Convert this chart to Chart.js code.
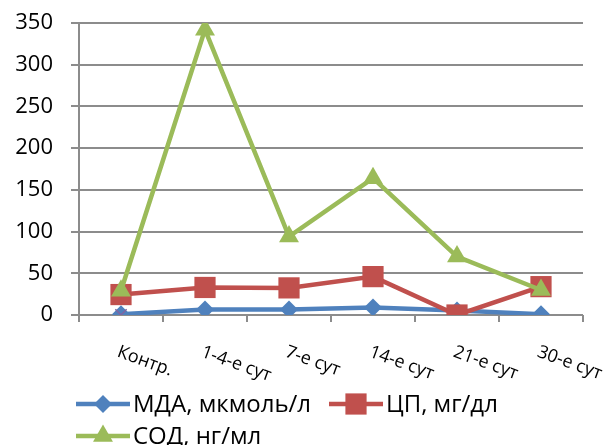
<!DOCTYPE html>
<html>
<head>
<meta charset="utf-8">
<script src="https://cdn.jsdelivr.net/npm/chart.js@4.4.1/dist/chart.umd.min.js"></script>
<style>
  html, body { margin: 0; padding: 0; background: #fff; }
</style>
</head>
<body>
<canvas id="grafico" width="610" height="445"></canvas>
<script>
// Datos
const categorias = ['Контр.', '1-4-е сут', '7-е сут', '14-е сут', '21-е сут', '30-е сут'];
const mda = [1, 6.5, 6.5, 9, 5.5, 1];
const cp = [24.5, 33, 32.5, 46, 0, 34];
const sod = [29, 342, 94, 164, 70, 30];
const serie4 = [0, null, null, null, null, null];
const ticksY = [0, 50, 100, 150, 200, 250, 300, 350];

const nombres = ['МДА, мкмоль/л', 'ЦП, мг/дл', 'СОД, нг/мл'];

const FUENTE = "'Open Sans', 'DejaVu Sans', sans-serif";
const GRIS = '#8c8c8c';

// Dibujar un marcador como los de Excel
function dibujarMarcador(ctx, estilo, x, y, r, color) {
  ctx.save();
  ctx.fillStyle = color;
  ctx.beginPath();
  if (estilo === 'rectRot') {
    ctx.moveTo(x, y - r);
    ctx.lineTo(x + r, y);
    ctx.lineTo(x, y + r);
    ctx.lineTo(x - r, y);
  } else if (estilo === 'rect') {
    const s = r * Math.SQRT1_2;
    ctx.rect(x - s, y - s, 2 * s, 2 * s);
  } else if (estilo === 'triangle') {
    ctx.moveTo(x, y - r);
    ctx.lineTo(x + r * Math.sin(Math.PI / 3), y + r / 2);
    ctx.lineTo(x - r * Math.sin(Math.PI / 3), y + r / 2);
  }
  ctx.closePath();
  ctx.fill();
  ctx.restore();
}

// Etiquetas del eje X giradas hacia abajo
const etiquetasX = {
  id: 'etiquetasX',
  afterDraw(chart) {
    const ctx = chart.ctx;
    const x = chart.scales.x;
    ctx.save();
    ctx.font = '18px ' + FUENTE;
    ctx.fillStyle = '#000';
    ctx.textAlign = 'left';
    ctx.textBaseline = 'top';
    categorias.forEach((cat, i) => {
      const px = x.getPixelForValue(i);
      ctx.save();
      ctx.translate(px, x.top + 28);
      ctx.rotate(20 * Math.PI / 180);
      ctx.fillText(cat, 0, 0);
      ctx.restore();
    });
    ctx.restore();
  }
};

// Leyenda abajo a la izquierda, en dos filas
const leyenda = {
  id: 'leyenda',
  afterDraw(chart) {
    const ctx = chart.ctx;
    const filas = [
      [{ i: 0, x: 76 }, { i: 1, x: 329 }],
      [{ i: 2, x: 76 }]
    ];
    const basesY = [412, 444];
    ctx.save();
    ctx.font = '24px ' + FUENTE;
    ctx.fillStyle = '#000';
    ctx.textBaseline = 'alphabetic';
    filas.forEach((fila, f) => {
      const yb = basesY[f];
      const yc = yb - 8;
      fila.forEach(item => {
        const ds = chart.data.datasets[item.i];
        ctx.strokeStyle = ds.borderColor;
        ctx.lineWidth = 4.5;
        ctx.beginPath();
        ctx.moveTo(item.x, yc);
        ctx.lineTo(item.x + 54, yc);
        ctx.stroke();
        dibujarMarcador(ctx, ds.pointStyle, item.x + 27, yc, ds.pointRadius, ds.pointBackgroundColor);
        ctx.fillStyle = '#000';
        ctx.fillText(nombres[item.i], item.x + 57, yb);
      });
    });
    ctx.restore();
  }
};

const ctx = document.getElementById('grafico').getContext('2d');
new Chart(ctx, {
  type: 'line',
  data: {
    labels: categorias,
    datasets: [
      {
        label: nombres[0],
        data: mda,
        borderColor: '#4F81BD',
        backgroundColor: '#4F81BD',
        pointBackgroundColor: '#4F81BD',
        pointBorderWidth: 0,
        pointStyle: 'rectRot',
        pointRadius: 9,
        borderWidth: 4.5,
        order: 3
      },
      {
        label: nombres[1],
        data: cp,
        borderColor: '#C0504D',
        backgroundColor: '#C0504D',
        pointBackgroundColor: '#C0504D',
        pointBorderWidth: 0,
        pointStyle: 'rect',
        pointRadius: 15,
        borderWidth: 4.5,
        order: 2
      },
      {
        label: nombres[2],
        data: sod,
        borderColor: '#9BBB59',
        backgroundColor: '#9BBB59',
        pointBackgroundColor: '#9BBB59',
        pointBorderWidth: 0,
        pointStyle: 'triangle',
        pointRadius: 11.5,
        borderWidth: 4.5,
        order: 1
      },
      {
        label: '',
        data: serie4,
        showLine: false,
        borderColor: '#8064A2',
        pointBorderColor: '#8064A2',
        pointStyle: 'crossRot',
        pointRadius: 8,
        pointBorderWidth: 1.5,
        order: 0
      }
    ]
  },
  options: {
    responsive: false,
    animation: false,
    devicePixelRatio: 1,
    layout: {
      padding: { left: 0, right: 27, top: 23, bottom: 0 }
    },
    plugins: {
      legend: { display: false },
      tooltip: { enabled: false }
    },
    scales: {
      x: {
        offset: true,
        grid: {
          offset: true,
          drawOnChartArea: false,
          drawTicks: true,
          tickLength: 7,
          color: GRIS,
          lineWidth: 2
        },
        border: { display: false },
        ticks: { display: false },
        afterFit(scale) { scale.height = 130; }
      },
      y: {
        min: 0,
        max: 350,
        afterBuildTicks(scale) {
          scale.ticks = ticksY.map(v => ({ value: v }));
        },
        grid: {
          color: GRIS,
          lineWidth: 2,
          tickLength: 8
        },
        border: { display: true, color: GRIS, width: 2 },
        ticks: {
          padding: 18,
          color: '#000',
          font: { family: FUENTE, size: 22 }
        },
        afterFit(scale) {
          scale.width = 79;
          scale.paddingTop = 0;
          scale.paddingBottom = 0;
        }
      }
    }
  },
  plugins: [etiquetasX, leyenda]
});
</script>
</body>
</html>
